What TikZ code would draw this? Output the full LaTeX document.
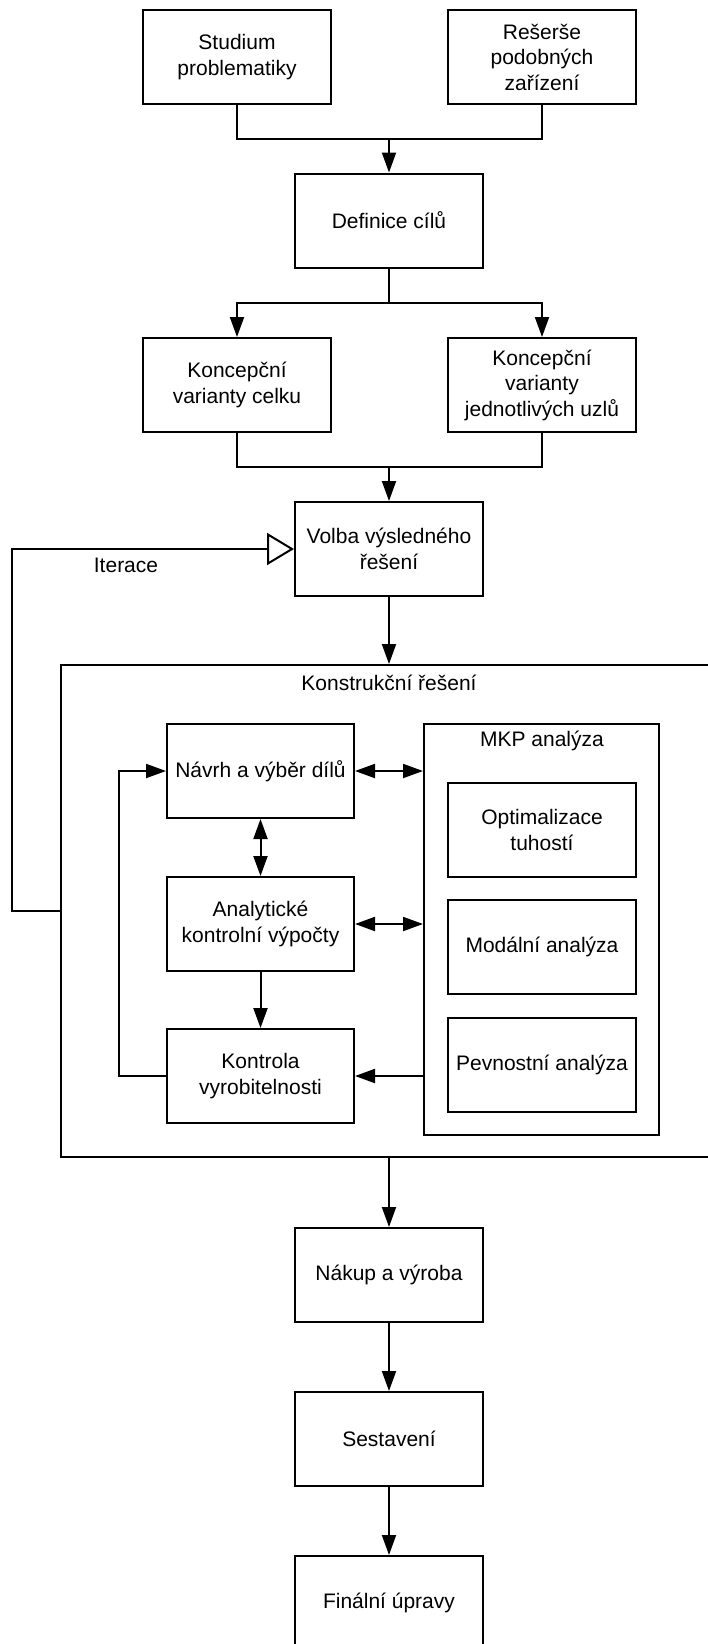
\documentclass[tikz,border=0pt]{standalone}
\usepackage{fontspec}
\setmainfont{Liberation Sans}
\usetikzlibrary{arrows.meta}
\tikzset{
  block/.style={draw, line width=2pt, fill=white, align=center,
    minimum width=188pt, minimum height=94pt, inner sep=2pt},
  panel/.style={draw, line width=2pt},
  lbl/.style={inner sep=1pt},
  conn/.style={draw, line width=2pt},
  flow/.style={conn, -{Triangle[length=20pt, width=14pt]}},
  dflow/.style={conn, {Triangle[length=20pt, width=14pt]}-{Triangle[length=20pt, width=14pt]}},
  iterflow/.style={conn, -{Triangle[open, length=27pt, width=32pt]}}
}
\begin{document}
\begin{tikzpicture}[x=1pt, y=-1pt, font=\fontsize{21pt}{25.5pt}\selectfont]
  \clip (0,0) rectangle (708,1644);
  % horni cast
  \node[block] (studium) at (237,57) {Studium\\problematiky};
  \node[block] (reserse) at (542,57) {Rešerše\\podobných\\zařízení};
  \node[block] (definice) at (389,220.5) {Definice cílů};
  \node[block] (celek) at (237,385) {Koncepční\\varianty celku};
  \node[block] (uzly) at (542,385) {Koncepční\\varianty\\jednotlivých uzlů};
  \node[block] (volba) at (389,549) {Volba výsledného\\řešení};
  \coordinate (j1) at (389,139);
  \coordinate (j2) at (389,303);
  \coordinate (j3) at (389,467);
  \draw[conn] (studium) |- (j1);
  \draw[conn] (reserse) |- (j1);
  \draw[flow] (j1) -- (definice);
  \draw[conn] (definice) -- (j2);
  \draw[flow] (j2) -| (celek);
  \draw[flow] (j2) -| (uzly);
  \draw[conn] (celek) |- (j3);
  \draw[conn] (uzly) |- (j3);
  \draw[flow] (j3) -- (volba);
  % konstrukcni reseni
  \node[panel, minimum width=656pt, minimum height=492pt] (konstr) at (389,911) {};
  \node[lbl] (konstrlbl) at (389,683) {Konstrukční řešení};
  \node[block, minimum width=187pt] (navrh) at (260.5,771) {Návrh a výběr dílů};
  \node[block, minimum width=187pt] (analyt) at (260.5,924) {Analytické\\kontrolní výpočty};
  \node[block, minimum width=187pt] (kontrola) at (260.5,1076) {Kontrola\\vyrobitelnosti};
  \node[panel, minimum width=235pt, minimum height=411pt] (mkp) at (541.5,929.5) {};
  \node[lbl] (mkplbl) at (542,741) {MKP analýza};
  \node[block] (optim) at (542,830) {Optimalizace\\tuhostí};
  \node[block] (modal) at (542,947) {Modální analýza};
  \node[block] (pevnost) at (542,1064.5) {Pevnostní analýza};
  \draw[flow] (volba) -- (konstr);
  \draw[iterflow] (konstr.west) -- ++(-48,0) |- (volba.west);
  \node[lbl] (iterlbl) at (126,565) {Iterace};
  \draw[dflow] (navrh.east) -- (navrh.east -| mkp.west);
  \draw[dflow] (navrh) -- (analyt);
  \draw[dflow] (analyt.east) -- (analyt.east -| mkp.west);
  \draw[flow] (analyt) -- (kontrola);
  \draw[flow] (kontrola.east -| mkp.west) -- (kontrola.east);
  \draw[flow] (kontrola.west) -- ++(-47,0) |- (navrh.west);
  % vyroba
  \node[block] (nakup) at (389,1275) {Nákup a výroba};
  \node[block] (sestaveni) at (389,1439) {Sestavení};
  \node[block] (finalni) at (389,1603) {Finální úpravy};
  \draw[flow] (konstr) -- (nakup);
  \draw[flow] (nakup) -- (sestaveni);
  \draw[flow] (sestaveni) -- (finalni);
\end{tikzpicture}
\end{document}
